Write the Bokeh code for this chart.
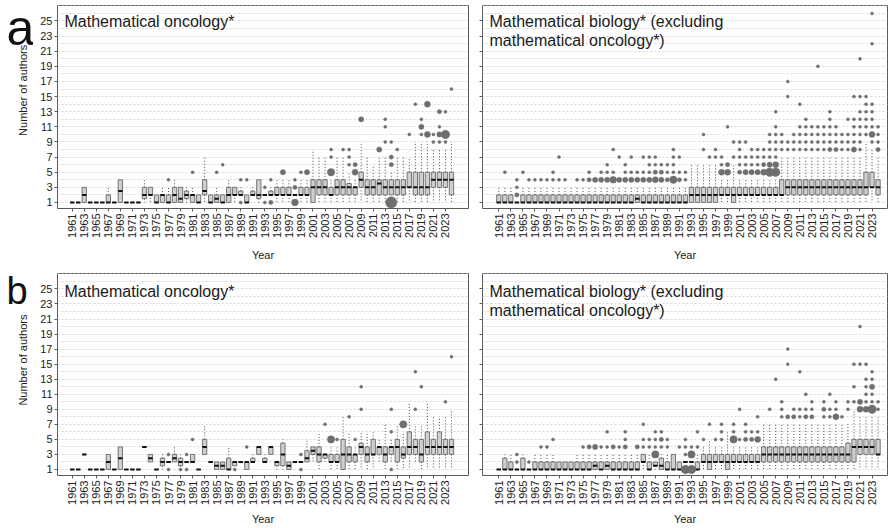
import math
from bokeh.plotting import figure
from bokeh.layouts import row, column
from bokeh.models import ColumnDataSource, Label, FixedTicker, Range1d
from bokeh.core.properties import value
from bokeh.embed import file_html
from bokeh.resources import INLINE

years = list(range(1961, 2025))
tick_years = list(range(1961, 2024, 2))
y_ticks = list(range(1, 26, 2))

# ---------------- (a) Mathematical oncology* ----------------
onc_a_q1 = [1, 1, 1, 1, 1, 1, 1, 1, 1, 1,
            1, 1, 1.5, 2, 1, 1, 1, 1, 1, 1.5,
            1, 1, 2, 1, 1, 1, 1, 2, 2, 1,
            2, 1.5, 2, 2, 2, 2, 2, 2, 2, 2,
            1, 2, 2, 2, 2, 2, 2, 2, 3, 2,
            2, 2, 2, 2, 2, 2, 3, 2, 2, 2,
            3, 3, 3, 2]
onc_a_med = [1, 1, 2, 1, 1, 1, 1, 1, 2.5, 1,
             1, 1, 2, 2, 1, 2, 1, 2, 1.5, 2,
             2, 1, 2.5, 1, 1.5, 1, 2, 2, 2, 1,
             2, 2, 2, 2, 2, 2, 2, 2, 2, 2,
             3, 3, 3, 2, 3, 3, 3, 3, 4, 3,
             3, 3.5, 3, 3, 3, 3, 3, 3, 3, 3,
             4, 4, 4, 4]
onc_a_q3 = [1, 1, 3, 1, 1, 1, 2, 1, 4, 1,
            1, 1, 3, 3, 2, 2, 2, 3, 3, 2.5,
            2, 2, 4, 2, 2, 2, 3, 3, 2.5, 2,
            2.5, 4, 2, 2.5, 3, 3, 3, 2, 3, 3,
            4, 4, 4, 3, 4, 4, 3.5, 3, 5, 4,
            4, 4, 4, 4, 4, 4, 5, 5, 5, 5,
            5, 5, 5, 5]
onc_a_lo = [1, 1, 1, 1, 1, 1, 1, 1, 1, 1,
            1, 1, 1, 1, 1, 1, 1, 1, 1, 1,
            1, 1, 1, 1, 1, 1, 1, 1, 2, 1,
            2, 1, 2, 2, 1, 1, 1, 2, 1, 1,
            1, 1, 1, 1, 1, 1, 1, 1, 1, 1,
            1, 1, 1, 2, 1, 1, 1, 1, 1, 1,
            1, 1, 1, 1]
onc_a_hi = [1, 1, 3, 1, 1, 1, 3, 1, 4, 1,
            1, 1, 4, 3, 2, 3, 3, 4, 3, 3,
            3, 2, 7, 2, 3, 2, 4, 3, 3, 2,
            3, 4, 2, 3, 4, 4, 4, 2, 4, 4,
            8, 7, 7, 4, 7, 7, 5, 4, 9, 7,
            6, 7, 7, 5, 7, 7, 7, 9, 9, 9,
            8, 8, 8, 9]
# outliers: (year, number of authors, number of papers)
onc_a_out = [(1977, 4, 1), (1981, 5, 1), (1985, 5, 1), (1986, 6, 1), (1989, 1, 1), (1989, 4, 1),
             (1990, 4, 1), (1993, 1, 1), (1993, 3, 1), (1994, 1, 2), (1994, 4, 1), (1996, 5, 3),
             (1998, 1, 5), (1998, 3, 2), (1998, 4, 1), (1999, 5, 1), (2000, 5, 3), (2004, 5, 6),
             (2004, 7, 1), (2004, 8, 1), (2006, 8, 1), (2007, 6, 1), (2007, 7, 1), (2007, 8, 1),
             (2008, 5, 4), (2008, 6, 2), (2009, 12, 3), (2012, 8, 3), (2013, 9, 1), (2013, 11, 1),
             (2013, 12, 1), (2014, 1, 14), (2014, 6, 2), (2014, 7, 2), (2014, 9, 1), (2015, 8, 1),
             (2017, 10, 1), (2018, 14, 1), (2019, 10, 1), (2019, 11, 3), (2019, 12, 1),
             (2020, 10, 4), (2020, 14, 4), (2021, 9, 1), (2021, 10, 1), (2022, 9, 1),
             (2022, 10, 3), (2022, 11, 1), (2022, 13, 2), (2023, 9, 1), (2023, 10, 8),
             (2023, 13, 1), (2024, 16, 1)]

# ---------------- (a) Mathematical biology* (excl. oncology) ----------------
bio_a_q1 = [1] * 30 + [1, 1, 1, 1, 1, 1, 1, 2, 2, 1] + [2] * 20 + [2, 2, 3, 2]
bio_a_med = ([1] * 20 + [1, 1, 1, 1.5, 1, 1, 1, 1, 1, 1] +
             [1, 1, 2, 2, 2, 2, 2, 2, 2, 2] +
             [2, 2, 2, 2, 2, 2, 2, 2, 3, 3] + [3] * 10 + [3, 3, 3, 3])
bio_a_q3 = ([2, 2, 2, 1, 2, 2, 2, 2, 2, 2] + [2] * 20 +
            [2, 2, 3, 3, 3, 3, 3, 3, 3, 3] +
            [3, 3, 3, 3, 3, 3, 3, 4, 4, 4] + [4] * 10 + [4, 5, 5, 4])
bio_a_lo = [1] * 64
bio_a_hi = ([3, 3, 3, 1, 3, 3, 3, 3, 3, 3] + [3] * 20 +
            [3, 3, 6, 6, 6, 6, 6, 4, 4, 6] +
            [4, 4, 4, 4, 4, 4, 4, 7, 7, 7] + [7] * 10 + [7, 9, 8, 7])
bio_a_out = [(1962, 5, 1), (1964, 2, 2), (1964, 3, 1), (1964, 4, 1), (1965, 5, 1), (1966, 4, 1),
             (1967, 4, 1), (1968, 4, 1), (1969, 4, 1), (1970, 4, 1), (1970, 5, 1), (1971, 4, 1),
             (1971, 7, 1), (1972, 4, 1), (1974, 4, 1), (1975, 4, 1), (1976, 4, 2), (1976, 5, 1),
             (1977, 4, 3), (1978, 4, 3), (1978, 5, 1), (1979, 4, 3), (1979, 5, 1), (1979, 6, 1),
             (1980, 4, 5), (1980, 5, 1), (1980, 8, 1), (1981, 4, 3), (1981, 7, 1), (1982, 4, 3),
             (1982, 5, 1), (1982, 6, 1), (1983, 4, 3), (1983, 5, 1), (1983, 7, 1), (1984, 4, 3),
             (1984, 5, 1), (1985, 4, 3), (1985, 5, 1), (1985, 7, 1), (1986, 4, 3), (1986, 5, 1),
             (1986, 6, 1), (1986, 7, 1), (1987, 4, 4), (1987, 5, 2), (1987, 6, 1), (1987, 7, 1),
             (1988, 4, 3), (1988, 5, 2), (1988, 6, 1), (1989, 4, 2), (1989, 5, 1), (1989, 6, 1),
             (1990, 4, 6), (1990, 5, 1), (1990, 6, 1), (1990, 7, 1), (1990, 8, 1), (1991, 4, 2),
             (1991, 5, 1), (1991, 7, 1), (1992, 4, 1), (1992, 5, 1), (1995, 8, 1), (1995, 10, 1),
             (1996, 7, 1), (1997, 7, 1), (1997, 8, 1), (1998, 5, 4), (1998, 6, 1), (1998, 7, 1),
             (1999, 5, 4), (1999, 6, 2), (1999, 11, 1), (2000, 7, 1), (2000, 9, 1), (2001, 5, 2),
             (2001, 6, 1), (2001, 7, 1), (2001, 8, 1), (2001, 9, 1), (2002, 5, 3), (2002, 6, 1),
             (2002, 7, 1), (2002, 9, 1), (2003, 5, 3), (2003, 6, 1), (2003, 7, 1), (2003, 8, 1),
             (2004, 5, 3), (2004, 6, 1), (2004, 7, 1), (2004, 8, 1), (2005, 5, 4), (2005, 6, 2),
             (2005, 7, 1), (2005, 8, 1), (2006, 5, 8), (2006, 6, 3), (2006, 7, 1), (2006, 8, 1),
             (2006, 9, 1), (2006, 10, 1), (2007, 5, 8), (2007, 6, 4), (2007, 7, 1), (2007, 8, 1),
             (2007, 9, 1), (2007, 10, 1), (2007, 11, 1), (2007, 13, 1), (2008, 8, 1), (2008, 9, 1),
             (2008, 10, 1), (2009, 8, 1), (2009, 9, 1), (2009, 15, 1), (2009, 17, 1), (2010, 8, 1),
             (2010, 9, 1), (2010, 10, 1), (2011, 8, 1), (2011, 9, 1), (2011, 10, 1), (2011, 11, 1),
             (2011, 14, 1), (2012, 8, 1), (2012, 9, 1), (2012, 10, 1), (2012, 11, 1), (2012, 12, 1),
             (2013, 8, 1), (2013, 9, 1), (2013, 10, 1), (2013, 11, 1), (2014, 8, 1), (2014, 9, 1),
             (2014, 10, 1), (2014, 11, 1), (2014, 19, 1), (2015, 8, 1), (2015, 9, 1), (2015, 10, 1),
             (2015, 11, 1), (2016, 8, 2), (2016, 9, 1), (2016, 10, 1), (2016, 11, 1), (2016, 12, 1),
             (2016, 13, 1), (2017, 8, 2), (2017, 9, 1), (2017, 10, 1), (2017, 11, 1), (2018, 8, 1),
             (2018, 9, 1), (2018, 10, 1), (2019, 8, 1), (2019, 9, 1), (2019, 10, 1), (2019, 12, 1),
             (2020, 8, 3), (2020, 9, 1), (2020, 10, 1), (2020, 11, 1), (2020, 12, 1), (2020, 15, 1),
             (2021, 8, 1), (2021, 9, 1), (2021, 10, 1), (2021, 11, 1), (2021, 12, 1), (2021, 13, 1),
             (2021, 15, 1), (2021, 20, 1), (2022, 10, 1), (2022, 11, 1), (2022, 12, 1),
             (2022, 13, 1), (2022, 14, 1), (2022, 15, 1), (2023, 9, 1), (2023, 10, 4),
             (2023, 11, 1), (2023, 12, 1), (2023, 13, 1), (2023, 14, 1), (2023, 22, 1),
             (2023, 26, 1), (2024, 8, 2), (2024, 9, 1), (2024, 10, 1), (2024, 11, 1)]

# ---------------- (b) Mathematical oncology* ----------------
onc_b_q1 = [1, 1, 3, 1, 1, 1, 1, 1, 1, 1,
            1, 1, 4, 2, 1, 1.5, 2, 2, 1.5, 2,
            2, 1, 3, 2, 1, 1, 1, 1.5, 2, 1,
            2, 3, 2, 3, 1.5, 1.5, 1, 2, 2, 2,
            3, 2, 2.5, 2, 2, 1, 2, 2, 3, 2,
            3, 3, 2, 3, 2, 2.5, 3, 3, 2, 3,
            3, 3, 3, 3]
onc_b_med = [1, 1, 3, 1, 1, 1, 2, 1, 2.5, 1,
             1, 1, 4, 2.5, 1, 2, 2, 2.5, 2, 2,
             2, 1, 4, 2, 1.5, 1.5, 1, 2, 2, 2,
             2, 4, 2, 4, 2, 3, 1.5, 2, 2, 2.5,
             3.5, 3, 3, 2, 2, 3, 3, 3, 4, 3,
             3, 4, 3, 4, 4, 3, 4, 4, 3, 4,
             4, 4, 4, 4]
onc_b_q3 = [1, 1, 3, 1, 1, 1, 3, 1, 4, 1,
            1, 1, 4, 3, 1, 2.5, 2, 3, 2.5, 2,
            3, 1, 5, 2, 2, 2, 2.5, 2, 2, 2,
            2.5, 4, 2.5, 4, 2, 4.5, 2, 2, 2, 3.5,
            4, 4, 3, 3, 3, 5, 4, 3, 4.5, 4,
            5, 4, 4, 4, 5, 4, 6, 5, 5, 6,
            5, 6, 5, 5]
onc_b_lo = [1, 1, 3, 1, 1, 1, 1, 1, 1, 1,
            1, 1, 4, 2, 1, 1, 2, 2, 1, 2,
            2, 1, 3, 2, 1, 1, 1, 1.5, 2, 1,
            2, 3, 2, 3, 1, 1, 1, 2, 2, 2,
            2, 1, 2, 1, 1, 1, 1, 1, 1, 1,
            1, 2, 1, 2, 1, 1, 1, 2, 1, 1,
            1, 1, 1, 1]
onc_b_hi = [1, 1, 3, 1, 1, 1, 3, 1, 4, 1,
            1, 1, 4, 3, 1, 3, 2, 4, 3, 2,
            3, 1, 7, 2, 2, 2, 4, 2, 2, 2,
            3, 4, 3, 4, 2, 5, 2, 2, 2, 5,
            4, 6, 3, 4, 4, 8, 6, 4, 6, 6,
            6, 5, 7, 5, 7, 6, 10, 7, 7, 10,
            8, 8, 8, 9]
onc_b_out = [(1977, 1, 1), (1977, 3, 1), (1979, 1, 1), (1980, 1, 1), (1980, 3, 1), (1981, 5, 1),
             (1988, 1, 1), (1990, 4, 1), (1999, 1, 1), (1999, 3, 1), (2003, 7, 1), (2004, 5, 6),
             (2005, 5, 1), (2007, 8, 1), (2008, 5, 1), (2009, 9, 1), (2009, 12, 1), (2014, 1, 1),
             (2014, 6, 1), (2014, 9, 1), (2016, 7, 6), (2018, 9, 1), (2018, 14, 1), (2019, 12, 1),
             (2023, 10, 1), (2024, 16, 1)]

# ---------------- (b) Mathematical biology* (excl. oncology) ----------------
bio_b_q1 = ([1] * 20 + [1, 1, 1, 1, 2, 1, 1.5, 1, 1, 1] +
            [1, 2, 2, 1, 2, 1, 2, 2, 1, 2] + [2] * 20 + [3, 3, 3, 3])
bio_b_med = ([1] * 10 + [1, 1, 1, 1, 1, 1, 1.5, 1, 1.5, 1] +
             [1, 1, 1, 1, 2, 1, 1.5, 1.5, 1, 1] +
             [1, 2, 2, 1, 2, 2, 2, 2, 2, 2] +
             [2, 2, 2, 2, 3, 3, 3, 3, 3, 3] +
             [3, 3, 3, 3, 3, 3, 3, 3, 3, 4] + [4, 4, 4, 3])
bio_b_q3 = ([1, 2.5, 2, 1, 2.5, 1, 2, 2, 2, 2] + [2] * 10 +
            [2, 2, 2, 2, 3, 2, 2, 2.5, 2, 3] +
            [2, 2, 2, 2, 3, 3, 3, 3, 3, 3] +
            [3, 3, 3, 3, 4, 4, 4, 4, 4, 4] +
            [4, 4, 4, 4, 4, 4, 4, 4, 4.5, 5] + [5, 5, 5, 5])
bio_b_lo = [1] * 30 + [1, 2, 2, 1, 1, 1, 1, 1, 1, 1] + [1] * 24
bio_b_hi = ([1, 3, 3, 1, 3, 1, 3, 3, 3, 3] +
            [2, 2, 2, 3, 3, 3, 3, 3, 3, 3] +
            [3, 3, 3, 3, 3, 3, 2, 3, 3, 3] +
            [2, 2, 2, 3, 4, 5, 4, 4, 6, 4] +
            [4, 4, 4, 4, 7, 7, 7, 7, 7, 7] +
            [7, 7, 7, 7, 7, 7, 7, 7, 7, 9] + [8, 8, 8, 8])
bio_b_out = [(1964, 2, 1), (1964, 3, 1), (1966, 2, 1), (1968, 4, 1), (1969, 4, 1), (1970, 5, 1),
             (1975, 4, 1), (1976, 4, 2), (1977, 4, 3), (1978, 4, 1), (1979, 4, 1), (1979, 6, 1),
             (1980, 4, 2), (1981, 4, 1), (1982, 4, 2), (1982, 5, 1), (1982, 6, 1), (1984, 4, 2),
             (1985, 4, 1), (1985, 5, 1), (1985, 7, 1), (1986, 4, 1), (1986, 5, 1), (1987, 3, 6),
             (1987, 4, 1), (1987, 5, 1), (1987, 6, 1), (1988, 4, 1), (1988, 5, 2), (1988, 6, 1),
             (1989, 4, 1), (1989, 5, 1), (1991, 4, 1), (1992, 1, 8), (1992, 3, 1), (1992, 4, 1),
             (1992, 5, 1), (1993, 1, 8), (1993, 3, 6), (1993, 4, 1), (1994, 4, 1), (1994, 6, 1),
             (1995, 5, 1), (1996, 7, 1), (1997, 5, 1), (1998, 5, 1), (1998, 6, 1), (1998, 7, 1),
             (2000, 5, 6), (2000, 6, 1), (2000, 7, 1), (2001, 5, 1), (2001, 9, 1), (2002, 5, 2),
             (2002, 6, 1), (2002, 7, 1), (2003, 5, 2), (2003, 6, 1), (2004, 5, 4), (2004, 6, 1),
             (2004, 8, 1), (2006, 9, 1), (2007, 13, 1), (2008, 8, 1), (2008, 9, 1), (2008, 10, 1),
             (2009, 8, 2), (2009, 15, 1), (2009, 17, 1), (2010, 8, 2), (2010, 9, 1), (2011, 8, 1),
             (2011, 9, 1), (2011, 14, 1), (2012, 8, 2), (2012, 9, 1), (2012, 11, 1), (2013, 8, 2),
             (2013, 9, 1), (2013, 10, 1), (2015, 8, 1), (2015, 9, 2), (2015, 10, 1), (2016, 8, 1),
             (2016, 9, 1), (2016, 11, 1), (2017, 8, 4), (2017, 9, 1), (2017, 10, 1), (2018, 8, 1),
             (2019, 9, 1), (2019, 10, 1), (2020, 10, 1), (2020, 12, 1), (2020, 15, 1),
             (2021, 9, 4), (2021, 10, 3), (2021, 15, 1), (2021, 20, 1), (2022, 9, 4),
             (2022, 10, 1), (2022, 11, 1), (2022, 12, 1), (2022, 13, 1), (2022, 15, 1),
             (2023, 9, 8), (2023, 10, 1), (2023, 11, 1), (2023, 12, 3), (2023, 13, 1),
             (2023, 14, 1), (2024, 9, 1), (2024, 10, 1)]

title_onc = ["Mathematical oncology*"]
title_bio = ["Mathematical biology* (excluding", "mathematical oncology*)"]
y_label = "Number of authors"
x_label = "Year"

FONT = "Liberation Sans"
HALF = 0.36
# row geometry (pixels): figure height, frame border top / bottom, x-label standoff,
# letter baseline and y-label centre (from canvas top), title offset below frame top
ROW = {True: dict(height=268, bt=5, bb=60, xls=8, lbase=30, ymid=112, toff=-16),
       False: dict(height=259, bt=5, bb=48, xls=5, lbase=22, ymid=111, toff=-18)}
SIDE_W = 33


def side_panel(top, letter, letter_size):
    r = ROW[top]
    h = r["height"]
    p = figure(width=SIDE_W, height=h, x_range=Range1d(0, SIDE_W), y_range=Range1d(0, h),
               output_backend="svg", toolbar_location=None,
               x_axis_location=None, y_axis_location=None,
               min_border_left=0, min_border_right=0, min_border_top=0, min_border_bottom=0)
    p.grid.visible = False
    p.outline_line_color = None
    p.text(x=[6], y=[h - r["lbase"]], text=[letter], text_font=value(FONT),
           text_font_size=letter_size, text_color="#111111", text_baseline="alphabetic",
           text_align="left")
    p.text(x=[22], y=[h - r["ymid"]], text=[y_label], angle=math.pi / 2, text_font=value(FONT),
           text_font_size="11px", text_color="#222222", text_baseline="middle",
           text_align="center")
    return p


def make_panel(q1, med, q3, lo, hi, outl, title_lines, left, top):
    r = ROW[top]
    if left:
        width, bl, br = 441, 24, 6
        xr = Range1d(1958.56, 2026.83)
    else:
        width, bl, br = 415, 8, 2
        xr = Range1d(1958.29, 2025.57)
    p = figure(width=width, height=r["height"], x_range=xr, y_range=Range1d(0.2, 27.05),
               output_backend="svg", toolbar_location=None,
               min_border_left=bl, min_border_right=br, min_border_top=r["bt"],
               min_border_bottom=r["bb"])
    p.outline_line_color = "#5a5a5a"
    p.outline_line_width = 1
    p.xgrid.visible = False
    p.ygrid.ticker = FixedTicker(ticks=list(range(1, 28)))
    p.ygrid.grid_line_color = "#d9d9d9"
    p.ygrid.grid_line_dash = "2 2"
    p.ygrid.grid_line_width = 1

    p.xaxis.ticker = FixedTicker(ticks=tick_years)
    p.xaxis.major_label_orientation = math.pi / 2
    p.xaxis.axis_label = x_label
    p.yaxis.ticker = FixedTicker(ticks=y_ticks)
    for ax in (p.xaxis[0], p.yaxis[0]):
        ax.axis_line_color = None
        ax.minor_tick_line_color = None
        ax.major_tick_line_color = "#5a5a5a"
        ax.major_tick_out = 3
        ax.major_tick_in = 0
        ax.major_label_text_font = FONT
        ax.major_label_text_font_size = "11px"
        ax.major_label_text_color = "#222222"
        ax.major_label_standoff = 2
        ax.axis_label_text_font = FONT
        ax.axis_label_text_font_size = "11px"
        ax.axis_label_text_font_style = "normal"
        ax.axis_label_text_color = "#222222"
    p.xaxis.axis_label_standoff = r["xls"]
    if not left:
        p.yaxis.major_label_text_font_size = "1px"
        p.yaxis.major_label_text_color = None
        p.yaxis.major_label_standoff = 0

    src = ColumnDataSource(dict(
        x=years, q1=q1, med=med, q3=q3, lo=lo, hi=hi,
        xl=[y - HALF for y in years], xr=[y + HALF for y in years]))
    p.segment(x0="x", y0="q1", x1="x", y1="lo", source=src, line_color="#4a4a4a",
              line_width=1, line_dash="1 2")
    p.segment(x0="x", y0="q3", x1="x", y1="hi", source=src, line_color="#4a4a4a",
              line_width=1, line_dash="1 2")
    p.quad(left="xl", right="xr", bottom="q1", top="q3", source=src,
           fill_color="#cfcfcf", line_color="#5a5a5a", line_width=0.8)
    p.segment(x0="xl", y0="med", x1="xr", y1="med", source=src, line_color="#111111",
              line_width=2)

    osrc = ColumnDataSource(dict(
        x=[o[0] for o in outl], y=[o[1] for o in outl],
        s=[3.0 * math.sqrt(o[2]) for o in outl]))
    p.scatter(x="x", y="y", size="s", source=osrc, fill_color="#6e6e6e",
              line_color="#6e6e6e", line_width=0.5)

    for i, t in enumerate(title_lines):
        p.add_layout(Label(x=xr.start, y=27.05, x_offset=7, y_offset=r["toff"] - 19 * i,
                           text=t, text_font=FONT, text_font_size="16px",
                           text_color="#1a1a1a", text_baseline="alphabetic"))
    return p


sa = side_panel(True, "a", "50px")
sb = side_panel(False, "b", "38px")
pa1 = make_panel(onc_a_q1, onc_a_med, onc_a_q3, onc_a_lo, onc_a_hi, onc_a_out, title_onc,
                 left=True, top=True)
pa2 = make_panel(bio_a_q1, bio_a_med, bio_a_q3, bio_a_lo, bio_a_hi, bio_a_out, title_bio,
                 left=False, top=True)
pb1 = make_panel(onc_b_q1, onc_b_med, onc_b_q3, onc_b_lo, onc_b_hi, onc_b_out, title_onc,
                 left=True, top=False)
pb2 = make_panel(bio_b_q1, bio_b_med, bio_b_q3, bio_b_lo, bio_b_hi, bio_b_out, title_bio,
                 left=False, top=False)

layout = column(row(sa, pa1, pa2), row(sb, pb1, pb2))

with open("out.html", "w") as f:
    f.write(file_html(layout, INLINE))
